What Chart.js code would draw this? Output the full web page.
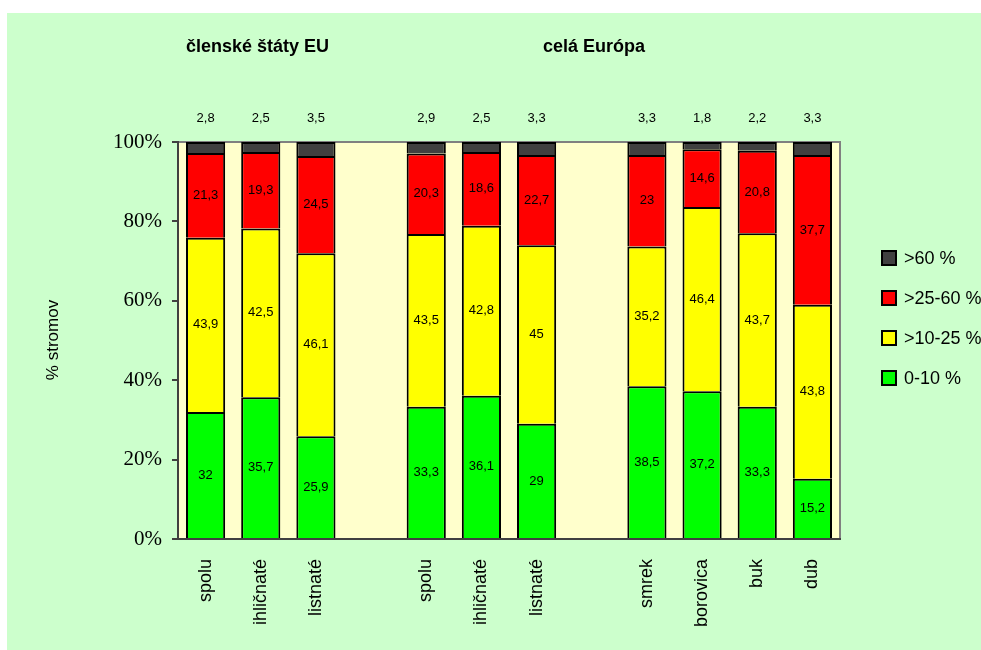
<!DOCTYPE html>
<html>
<head>
<meta charset="utf-8">
<script src="https://cdn.jsdelivr.net/npm/chart.js@4/dist/chart.umd.min.js"></script>
<style>
  html, body { margin: 0; padding: 0; background: #fff; }
  #wrap { width: 981px; height: 650px; position: relative; }
</style>
</head>
<body>
<div id="wrap"><canvas id="chart" width="981" height="650"></canvas></div>
<script>
// categories ('' = empty gap between groups)
const labels = ["spolu", "ihličnaté", "listnaté", "", "spolu", "ihličnaté", "listnaté", "", "smrek", "borovica", "buk", "dub"];

// defoliation classes, % of trees
const cls0to10  = [32, 35.7, 25.9, null, 33.3, 36.1, 29, null, 38.5, 37.2, 33.3, 15.2];
const cls10to25 = [43.9, 42.5, 46.1, null, 43.5, 42.8, 45, null, 35.2, 46.4, 43.7, 43.8];
const cls25to60 = [21.3, 19.3, 24.5, null, 20.3, 18.6, 22.7, null, 23, 14.6, 20.8, 37.7];
const clsOver60 = [2.8, 2.5, 3.5, null, 2.9, 2.5, 3.3, null, 3.3, 1.8, 2.2, 3.3];

const yTicks = [0, 20, 40, 60, 80, 100];
const groupTitles = [
  { text: "členské štáty EU", x: 186 },
  { text: "celá Európa", x: 543 }
];

const fmt = v => String(v).replace(".", ",");

// backgrounds, titles, data labels, legend
const decor = {
  id: "decor",
  beforeDraw(chart) {
    const { ctx, chartArea: a } = chart;
    ctx.save();
    ctx.fillStyle = "#CCFFCC";
    ctx.fillRect(7, 13, chart.width - 7, chart.height - 13);
    ctx.fillStyle = "#FFFFCC";
    ctx.fillRect(a.left, a.top, a.right - a.left, a.bottom - a.top);
    ctx.strokeStyle = "#808080";
    ctx.lineWidth = 2;
    ctx.strokeRect(a.left, a.top, a.right - a.left, a.bottom - a.top);
    ctx.restore();
  },
  afterDatasetsDraw(chart) {
    const { ctx, chartArea: a } = chart;
    ctx.save();
    ctx.fillStyle = "#000";
    ctx.textAlign = "left";
    ctx.textBaseline = "middle";
    ctx.font = "bold 18px 'Liberation Sans', Arial, sans-serif";
    groupTitles.forEach(t => ctx.fillText(t.text, t.x, 47));

    // segment values
    ctx.textAlign = "center";
    ctx.font = "13px 'Liberation Sans Narrow', 'Liberation Sans', sans-serif";
    chart.data.datasets.forEach((ds, i) => {
      const meta = chart.getDatasetMeta(i);
      meta.data.forEach((bar, j) => {
        const v = ds.data[j];
        if (v == null) return;
        ctx.fillStyle = "#000";
        if (ds.topLabel) {
          ctx.fillText(fmt(v), bar.x, a.top - 24);
        } else {
          ctx.fillText(fmt(v), bar.x, (bar.y + bar.base) / 2);
        }
      });
    });

    // y axis title
    ctx.save();
    ctx.translate(53, 340);
    ctx.rotate(-Math.PI / 2);
    ctx.font = "17px 'Liberation Sans', Arial, sans-serif";
    ctx.fillText("% stromov", 0, 0);
    ctx.restore();

    // legend, top class first
    ctx.textAlign = "left";
    ctx.font = "18px 'Liberation Sans', Arial, sans-serif";
    const items = chart.data.datasets.slice().reverse();
    items.forEach((ds, k) => {
      const y = 258 + k * 40;
      ctx.fillStyle = ds.backgroundColor;
      ctx.fillRect(882, y - 7, 14, 14);
      ctx.strokeStyle = "#000";
      ctx.lineWidth = 2;
      ctx.strokeRect(882, y - 7, 14, 14);
      ctx.fillStyle = "#000";
      ctx.fillText(ds.label, 904, y + 1);
    });
    ctx.restore();
  }
};

const barStyle = { borderColor: "#000", borderWidth: 2, categoryPercentage: 0.71, barPercentage: 1 };

new Chart(document.getElementById("chart"), {
  type: "bar",
  data: {
    labels: labels,
    datasets: [
      { label: "0-10 %", data: cls0to10, backgroundColor: "#00FF00", ...barStyle },
      { label: ">10-25 %", data: cls10to25, backgroundColor: "#FFFF00", ...barStyle },
      { label: ">25-60 %", data: cls25to60, backgroundColor: "#FF0000", ...barStyle },
      { label: ">60 %", data: clsOver60, backgroundColor: "#404040", topLabel: true, ...barStyle }
    ]
  },
  options: {
    responsive: false,
    animation: false,
    layout: { padding: { left: 98, right: 141, top: 142, bottom: 11 } },
    plugins: { legend: { display: false }, tooltip: { enabled: false } },
    scales: {
      x: {
        stacked: true,
        grid: { display: false },
        border: { color: "#404040", width: 2 },
        ticks: {
          color: "#000",
          minRotation: 90,
          maxRotation: 90,
          padding: 12,
          autoSkip: false,
          font: { family: "'Liberation Sans', Arial, sans-serif", size: 18 }
        },
        afterFit: s => { s.height = 100; }
      },
      y: {
        stacked: true,
        min: 0,
        max: 100,
        afterBuildTicks: s => { s.ticks = yTicks.map(v => ({ value: v })); },
        grid: { drawOnChartArea: false, tickLength: 6, color: "#404040", lineWidth: 2 },
        border: { color: "#404040", width: 2 },
        ticks: {
          color: "#000",
          padding: 10,
          callback: v => v + "%",
          font: { family: "'Liberation Serif', 'Times New Roman', serif", size: 21 }
        },
        afterFit: s => { s.width = 80; }
      }
    }
  },
  plugins: [decor]
});
</script>
</body>
</html>
